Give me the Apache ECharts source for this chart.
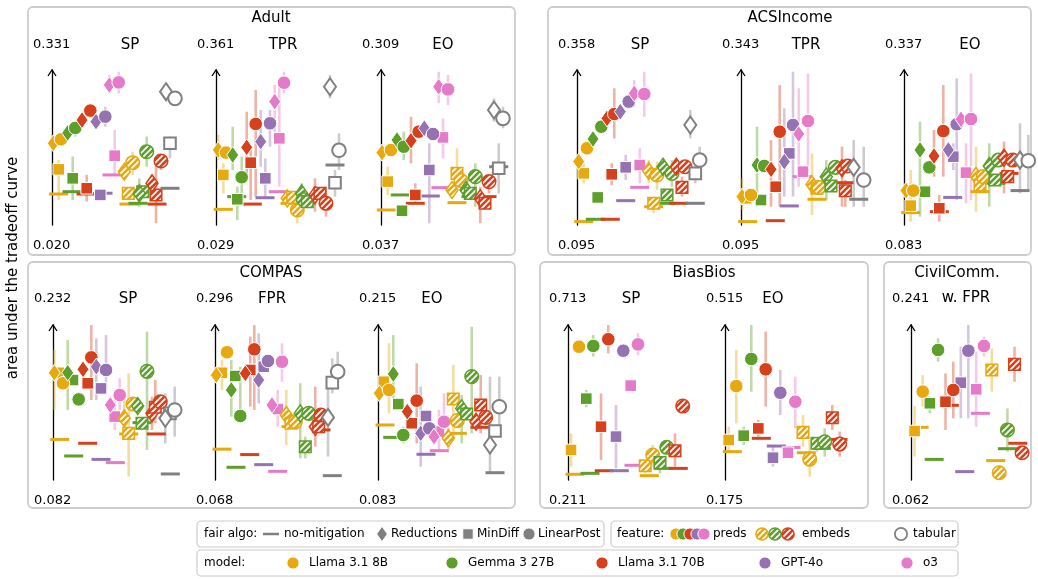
<!DOCTYPE html>
<html>
<head>
<meta charset="utf-8">
<script src="https://cdn.jsdelivr.net/npm/echarts@6/dist/echarts.min.js"></script>
<style>
  html, body { margin: 0; padding: 0; background: #fff; }
  #main { width: 1038px; height: 579px; }
</style>
</head>
<body>
<div id="main"></div>
<script>
// models in plot order, last colour is the tabular baseline
var modelNames = ['Llama 3.1 8B', 'Gemma 3 27B', 'Llama 3.1 70B', 'GPT-4o', 'o3'];
var modelColors = ['#E6A910', '#5E9F2C', '#D5411D', '#9572B2', '#E57AC9', '#808080'];
var algoNames = ['no-mitigation', 'Reductions', 'MinDiff', 'LinearPost'];   // 0 line, 1 diamond, 2 square, 3 circle
var featureNames = ['preds', 'embeds', 'tabular'];                          // 0 filled, 1 hatched, 2 hollow

// rows: [x slot, y (share of panel range), err low, err high, model, algo, feature]
var adultSP = [
  [0.67,0.200,null,null,0,0,0],[2.0,0.215,null,null,1,0,0],[3.4,0.200,null,null,2,0,0],[5.1,0.205,null,null,3,0,0],[6.0,0.323,null,null,4,0,0],
  [0.67,0.359,0.161,0.419,0,2,0],[2.07,0.301,0.161,0.441,1,2,0],[3.47,0.237,0.151,0.323,2,2,0],[4.83,0.194,null,null,3,2,0],[6.27,0.447,0.323,0.613,4,2,0],
  [0.13,0.527,null,null,0,1,0],[0.9,0.553,null,null,0,3,0],[1.57,0.594,null,null,1,1,0],[2.33,0.626,0.570,0.656,1,3,0],[3.0,0.677,null,null,2,1,0],
  [3.83,0.738,null,null,2,3,0],[4.4,0.667,null,null,3,1,0],[5.33,0.699,0.634,0.763,3,3,0],[5.73,0.903,0.849,0.968,4,1,0],[6.67,0.920,0.849,0.989,4,3,0],
  [7.7,0.135,null,null,0,0,1],[8.6,0.140,null,null,1,0,1],[10.5,0.135,null,null,2,0,1],
  [7.63,0.204,null,null,0,2,1],[9.07,0.215,null,null,1,2,1],[10.4,0.194,0.011,0.419,2,2,1],
  [7.23,0.344,null,null,0,1,1],[8.07,0.402,0.323,0.473,0,3,1],[8.73,0.204,0.118,0.301,1,1,1],[9.47,0.473,0.376,0.570,1,3,1],
  [10.0,0.269,0.204,0.323,2,1,1],[10.9,0.413,0.355,0.452,2,3,1],
  [11.8,0.237,null,null,5,0,2],[11.8,0.527,0.430,0.570,5,2,2],[11.4,0.860,null,null,5,1,2],[12.3,0.817,null,null,5,3,2]
];
var adultTPR = [
  [0.73,0.101,null,null,0,0,0],[2.07,0.183,null,null,1,0,0],[3.63,0.135,null,null,2,0,0],[4.9,0.176,null,null,3,0,0],[6.23,0.215,null,null,4,0,0],
  [0.73,0.323,0.204,0.398,0,2,0],[2.13,0.166,0.032,0.247,1,2,0],[3.47,0.402,0.161,0.505,2,2,0],[4.93,0.301,0.183,0.430,3,2,0],[6.33,0.559,0.247,0.935,4,2,0],
  [0.23,0.484,0.419,0.581,0,1,0],[1.0,0.467,null,null,0,3,0],[1.67,0.452,0.355,0.634,1,1,0],[2.57,0.308,0.183,0.441,1,3,0],[3.07,0.501,0.333,0.731,2,1,0],
  [3.97,0.652,0.183,0.871,2,3,0],[4.47,0.538,0.376,0.742,3,1,0],[5.4,0.656,0.505,0.742,3,3,0],[5.87,0.796,0.527,0.903,4,1,0],[6.8,0.918,0.849,0.989,4,3,0],
  [7.4,0.140,null,null,0,0,1],[9.0,0.140,null,null,1,0,1],[10.5,0.170,null,null,2,0,1],
  [7.13,0.172,0.118,0.226,0,1,1],[7.67,0.178,null,null,0,2,1],[8.13,0.097,0.011,0.204,0,3,1],[8.57,0.204,0.097,0.269,1,1,1],[8.73,0.165,null,null,1,3,1],
  [9.13,0.151,null,null,1,2,1],[9.9,0.194,0.086,0.301,2,1,1],[10.4,0.204,null,null,2,2,1],[11.0,0.140,0.054,0.247,2,3,1],
  [11.9,0.387,null,null,5,0,2],[11.9,0.273,0.183,0.355,5,2,2],[11.4,0.892,0.817,0.968,5,1,2],[12.3,0.482,0.355,0.591,5,3,2]
];
var adultEO = [
  [0.53,0.097,null,null,0,0,0],[1.93,0.194,null,null,1,0,0],[3.43,0.140,null,null,2,0,0],[4.93,0.187,null,null,3,0,0],[6.0,0.241,null,null,4,0,0],
  [0.67,0.280,0.194,0.376,0,2,0],[2.1,0.092,null,null,1,2,0],[3.43,0.194,0.140,0.269,2,2,0],[4.83,0.355,0.011,0.527,3,2,0],[6.2,0.565,0.430,0.688,4,2,0],
  [0.1,0.467,null,null,0,1,0],[1.0,0.484,null,null,0,3,0],[1.6,0.548,null,null,1,1,0],[2.27,0.505,0.419,0.602,1,3,0],[3.0,0.544,0.398,0.699,2,1,0],
  [3.77,0.602,null,null,2,3,0],[4.33,0.624,null,null,3,1,0],[5.2,0.587,null,null,3,3,0],[5.77,0.892,0.785,0.989,4,1,0],[6.7,0.875,0.774,0.968,4,3,0],
  [7.6,0.144,null,null,0,0,1],[9.0,0.183,null,null,1,0,1],[10.6,0.183,null,null,2,0,1],
  [7.1,0.226,null,null,0,1,1],[7.6,0.333,0.247,0.495,0,2,1],[8.0,0.286,null,null,0,3,1],[8.5,0.226,null,null,1,1,1],[8.93,0.204,null,null,1,2,1],
  [9.43,0.312,0.118,0.398,1,3,1],[9.93,0.172,0.011,0.247,2,1,1],[10.4,0.140,null,null,2,2,1],[10.8,0.280,0.204,0.323,2,3,1],
  [11.77,0.376,null,null,5,0,2],[11.77,0.366,0.204,0.527,5,2,2],[11.3,0.742,0.667,0.817,5,1,2],[12.2,0.688,0.624,0.763,5,3,2]
];
var acsSP = [
  [0.67,0.022,null,null,0,0,0],[1.83,0.037,null,null,1,0,0],[3.33,0.037,null,null,2,0,0],[4.87,0.157,null,null,3,0,0],[6.27,0.243,null,null,4,0,0],
  [0.67,0.333,0.269,0.398,0,2,0],[2.07,0.178,null,null,1,2,0],[3.47,0.327,0.258,0.398,2,2,0],[4.87,0.372,0.290,0.452,3,2,0],[6.27,0.387,0.269,0.495,4,2,0],
  [0.17,0.409,null,null,0,1,0],[1.0,0.495,null,null,0,3,0],[1.6,0.555,null,null,1,1,0],[2.43,0.634,null,null,1,3,0],[3.0,0.688,null,null,2,1,0],
  [3.73,0.716,0.559,0.882,2,3,0],[4.33,0.731,null,null,3,1,0],[5.17,0.796,null,null,3,3,0],[5.73,0.849,0.763,0.935,4,1,0],[6.73,0.845,0.699,0.989,4,3,0],
  [7.67,0.118,null,null,0,0,1],[8.93,0.140,null,null,1,0,1],[10.17,0.140,null,null,2,0,1],
  [7.17,0.348,0.269,0.419,0,1,1],[7.67,0.140,0.075,0.183,0,2,1],[8.0,0.323,0.226,0.409,0,3,1],[8.6,0.376,null,null,1,1,1],[9.0,0.194,null,null,1,2,1],
  [9.5,0.333,0.247,0.419,1,3,1],[9.93,0.376,0.323,0.419,2,1,1],[10.5,0.243,0.183,0.312,2,2,1],[10.8,0.376,null,null,2,3,1],
  [11.83,0.140,null,null,5,0,2],[11.83,0.333,0.269,0.376,5,2,2],[11.33,0.645,0.559,0.742,5,1,2],[12.27,0.419,0.355,0.505,5,3,2]
];
var acsTPR = [
  [0.67,0.022,null,null,0,0,0],[3.43,0.028,null,null,2,0,0],[4.83,0.123,null,null,3,0,0],[6.1,0.312,null,null,4,0,0],
  [0.53,0.172,null,null,0,2,0],[2.0,0.161,null,null,1,2,0],[3.47,0.247,null,null,2,2,0],[4.83,0.462,null,null,3,2,0],[6.2,0.344,null,null,4,2,0],
  [0.1,0.183,0.097,0.301,0,1,0],[1.0,0.194,null,null,0,3,0],[1.6,0.387,0.118,0.634,1,1,0],[2.33,0.381,null,null,1,3,0],[3.0,0.359,0.118,0.548,2,1,0],
  [3.87,0.602,0.118,0.903,2,3,0],[4.33,0.409,0.183,0.753,3,1,0],[5.2,0.645,0.183,0.989,3,3,0],[5.77,0.587,0.247,0.882,4,1,0],[6.7,0.671,0.333,0.978,4,3,0],
  [7.6,0.166,null,null,0,0,1],[10.3,0.273,null,null,2,0,1],
  [7.1,0.262,0.065,0.462,0,1,1],[7.6,0.237,null,null,0,2,1],[7.77,0.243,null,null,0,3,1],[8.53,0.312,0.161,0.419,1,1,1],[9.0,0.252,null,null,1,2,1],
  [9.43,0.372,null,null,1,3,1],[10.1,0.366,0.118,0.505,2,1,1],[10.43,0.221,0.118,0.290,2,2,1],[10.67,0.381,null,null,2,3,1],
  [11.77,0.166,null,null,5,0,2],[11.27,0.372,0.118,0.548,5,1,2],[12.27,0.290,0.118,0.505,5,3,2]
];
var acsEO = [
  [0.67,0.080,null,null,0,0,0],[3.53,0.086,null,null,2,0,0],[4.87,0.178,null,null,3,0,0],
  [0.67,0.125,0.022,0.355,0,2,0],[2.1,0.215,null,null,1,2,0],[3.53,0.108,0.022,0.194,2,2,0],[4.93,0.441,0.355,0.527,3,2,0],[6.2,0.338,0.140,0.527,4,2,0],
  [0.2,0.222,null,null,0,1,0],[0.93,0.222,null,null,0,3,0],[1.6,0.484,0.054,0.667,1,1,0],[2.53,0.372,null,null,1,3,0],[3.0,0.445,0.312,0.613,2,1,0],
  [3.93,0.606,0.312,0.903,2,3,0],[4.43,0.484,null,null,3,1,0],[5.27,0.650,0.161,0.946,3,3,0],[5.7,0.682,null,null,4,1,0],[6.7,0.684,0.161,0.978,4,3,0],
  [7.6,0.215,null,null,0,0,1],[9.2,0.269,null,null,1,0,1],[10.5,0.333,null,null,2,0,1],
  [7.2,0.316,0.086,0.505,0,1,1],[7.6,0.258,null,null,0,2,1],[7.93,0.312,null,null,0,3,1],[8.53,0.381,0.118,0.527,1,1,1],[9.1,0.290,null,null,1,2,1],
  [9.43,0.419,null,null,1,3,1],[10.0,0.434,0.204,0.538,2,1,1],[10.37,0.312,null,null,2,2,1],[10.87,0.419,null,null,2,3,1],
  [11.6,0.222,null,null,5,0,2],[11.6,0.419,0.204,0.656,5,1,2],[12.43,0.415,0.215,0.581,5,3,2]
];
var compasSP = [
  [0.67,0.262,null,null,0,0,0],[2.07,0.155,null,null,1,0,0],[3.47,0.237,null,null,2,0,0],[4.8,0.133,null,null,3,0,0],[6.23,0.112,null,null,4,0,0],
  [0.57,0.692,null,null,0,2,0],[2.0,0.645,null,null,1,2,0],[3.47,0.624,null,null,2,2,0],[4.8,0.591,null,null,3,2,0],[6.17,0.409,0.323,0.538,4,2,0],
  [0.13,0.692,0.452,0.839,0,1,0],[1.0,0.624,null,null,0,3,0],[1.47,0.692,0.452,0.903,1,1,0],[2.57,0.520,null,null,1,3,0],[3.0,0.714,null,null,2,1,0],
  [3.83,0.791,0.516,1.0,2,3,0],[4.33,0.731,0.516,0.914,3,1,0],[5.3,0.710,0.581,0.935,3,3,0],[5.73,0.484,null,null,4,1,0],[6.67,0.548,0.452,0.656,4,3,0],
  [7.57,0.297,null,null,0,0,1],[8.9,0.370,null,null,1,0,1],[10.33,0.297,null,null,2,0,1],
  [7.13,0.398,0.258,0.538,0,1,1],[7.57,0.301,0.022,0.688,0,2,1],[8.0,0.490,null,null,0,3,1],[8.47,0.477,null,null,1,1,1],[8.9,0.366,null,null,1,2,1],
  [9.4,0.701,0.194,0.957,1,3,1],[9.9,0.430,0.323,0.538,2,1,1],[10.23,0.469,0.366,0.645,2,2,1],[10.73,0.505,null,null,2,3,1],
  [11.73,0.039,null,null,5,0,2],[11.7,0.430,null,null,5,2,2],[11.23,0.398,0.237,0.559,5,1,2],[12.17,0.452,0.280,0.602,5,3,2]
];
var compasFPR = [
  [0.7,0.199,null,null,0,0,0],[2.1,0.082,null,null,1,0,0],[3.47,0.164,null,null,2,0,0],[4.87,0.099,null,null,3,0,0],[6.27,0.056,null,null,4,0,0],
  [0.7,0.692,0.581,0.774,0,2,0],[2.03,0.671,null,null,1,2,0],[3.53,0.710,0.473,0.925,2,2,0],[4.87,0.731,null,null,3,2,0],[6.27,0.458,0.344,0.581,4,2,0],
  [0.13,0.677,null,null,0,1,0],[1.2,0.824,null,null,0,3,0],[1.63,0.581,0.409,0.774,1,1,0],[2.53,0.413,0.409,0.731,1,3,0],[3.03,0.688,null,null,2,1,0],
  [3.93,0.843,0.452,1.0,2,3,0],[4.37,0.645,0.495,0.946,3,1,0],[5.3,0.768,null,null,3,3,0],[5.7,0.484,null,null,4,1,0],[6.7,0.763,0.634,0.882,4,3,0],
  [7.6,0.344,null,null,0,0,1],[10.6,0.323,null,null,2,0,1],
  [7.13,0.419,0.226,0.581,0,1,1],[7.6,0.366,null,null,0,2,1],[8.03,0.376,null,null,0,3,1],[8.53,0.430,0.140,0.624,1,1,1],[9.03,0.215,0.140,0.280,1,2,1],
  [9.37,0.430,null,null,1,3,1],[10.03,0.344,0.215,0.602,2,1,1],[10.37,0.344,null,null,2,2,1],[10.6,0.419,null,null,2,3,1],
  [11.73,0.028,null,null,5,0,2],[11.73,0.628,0.559,0.785,5,2,2],[11.3,0.404,0.151,0.667,5,1,2],[12.27,0.699,0.602,0.828,5,3,2]
];
var compasEO = [
  [0.7,0.355,null,null,0,0,0],[1.47,0.275,null,null,1,0,0],[4.8,0.166,null,null,3,0,0],[6.13,0.189,null,null,4,0,0],
  [0.6,0.634,null,null,0,2,0],[2.03,0.490,null,null,1,2,0],[3.37,0.366,null,null,2,2,0],[4.8,0.413,null,null,3,2,0],[6.1,0.312,0.194,0.452,4,2,0],
  [0.13,0.559,null,null,0,1,0],[1.1,0.581,0.430,0.882,0,3,0],[1.53,0.684,0.452,0.935,1,1,0],[2.53,0.290,0.237,0.344,1,3,0],[2.93,0.441,null,null,2,1,0],
  [3.87,0.512,0.237,0.753,2,3,0],[4.27,0.301,0.086,0.602,3,1,0],[5.13,0.333,null,null,3,3,0],[5.6,0.280,null,null,4,1,0],[6.6,0.376,0.258,0.559,4,3,0],
  [7.93,0.301,null,null,0,0,1],[10.2,0.340,null,null,2,0,1],
  [7.03,0.269,0.194,0.344,0,1,1],[7.53,0.523,0.258,0.742,0,2,1],[7.93,0.383,null,null,0,3,1],[8.37,0.462,0.237,0.548,1,1,1],[8.87,0.426,null,null,1,2,1],
  [9.37,0.667,0.301,0.989,1,3,1],[9.8,0.376,null,null,2,1,1],[10.27,0.484,0.301,0.677,2,2,1],[10.77,0.404,null,null,2,3,1],
  [11.7,0.047,null,null,5,0,2],[11.7,0.316,null,null,5,2,2],[11.2,0.226,0.043,0.667,5,1,2],[12.13,0.473,0.301,0.667,5,3,2]
];
var biosSP = [
  [0.7,0.037,null,null,0,0,0],[2.2,0.043,null,null,1,0,0],[3.63,0.060,null,null,2,0,0],[5.13,0.060,null,null,3,0,0],[6.6,0.095,null,null,4,0,0],
  [0.3,0.194,0.086,0.301,0,2,0],[1.83,0.525,0.469,0.581,1,2,0],[3.3,0.344,0.129,0.559,2,2,0],[4.8,0.280,0.075,0.484,3,2,0],[6.27,0.609,null,null,4,2,0],
  [1.1,0.860,null,null,0,3,0],[2.53,0.865,0.796,0.935,1,3,0],[4.03,0.908,0.817,1.0,2,3,0],[5.53,0.834,null,null,3,3,0],[7.0,0.875,0.806,0.946,4,3,0],
  [8.13,0.028,null,null,0,0,1],[9.53,0.075,null,null,1,0,1],[11.03,0.075,null,null,2,0,1],
  [7.73,0.092,0.043,0.129,0,2,1],[8.47,0.161,0.086,0.226,0,3,1],[9.2,0.112,0.043,0.151,1,2,1],[9.87,0.211,null,null,1,3,1],
  [10.7,0.189,0.086,0.301,2,2,1],[11.47,0.477,null,null,2,3,1]
];
var biosEO = [
  [0.73,0.183,null,null,0,0,0],[3.63,0.269,null,null,2,0,0],[5.13,0.219,null,null,3,0,0],[6.6,0.210,null,null,4,0,0],
  [0.37,0.258,0.183,0.344,0,2,0],[1.87,0.286,0.226,0.344,1,2,0],[3.33,0.333,0.280,0.387,2,2,0],[4.8,0.144,0.086,0.215,3,2,0],[6.3,0.176,null,null,4,2,0],
  [1.13,0.606,0.366,0.839,0,3,0],[2.63,0.781,0.570,1.0,1,3,0],[4.07,0.714,0.473,0.957,2,3,0],[5.53,0.563,0.419,0.710,3,3,0],[7.03,0.505,0.333,0.667,4,3,0],
  [8.13,0.176,null,null,0,0,1],[9.63,0.204,null,null,1,0,1],[11.3,0.262,null,null,2,0,1],
  [7.8,0.307,0.215,0.419,0,2,1],[8.47,0.135,0.022,0.258,0,3,1],[9.2,0.237,0.183,0.269,1,2,1],[9.97,0.247,0.151,0.333,1,3,1],
  [10.73,0.402,0.323,0.484,2,2,1],[11.47,0.232,0.151,0.312,2,3,1]
];
var civilFPR = [
  [0.83,0.340,null,null,0,0,0],[2.37,0.133,null,null,1,0,0],[3.93,0.482,null,null,2,0,0],[5.5,0.054,null,null,3,0,0],[7.1,0.430,null,null,4,0,0],
  [0.37,0.316,0.151,0.477,0,2,0],[1.93,0.495,0.430,0.538,1,2,0],[3.53,0.505,0.323,0.688,2,2,0],[5.1,0.628,0.398,0.860,3,2,0],[6.67,0.585,0.344,0.828,4,2,0],
  [1.2,0.570,0.473,0.677,0,3,0],[2.77,0.839,0.763,0.914,1,3,0],[4.33,0.581,0.398,0.763,2,3,0],[5.87,0.834,0.398,1.0,3,3,0],[7.47,0.865,0.796,0.925,4,3,0],
  [8.67,0.125,null,null,0,0,1],[9.87,0.202,null,null,1,0,1],[10.93,0.237,null,null,2,0,1],
  [8.27,0.710,0.570,0.849,0,2,1],[9.03,0.047,null,null,0,3,1],[9.87,0.323,0.183,0.462,1,3,1],[10.6,0.746,0.634,0.860,2,2,1],[11.37,0.176,null,null,2,3,1]
];

var panelData = [adultSP, adultTPR, adultEO, acsSP, acsTPR, acsEO, compasSP, compasFPR, compasEO, biosSP, biosEO, civilFPR];
var panelTitles = ['SP', 'TPR', 'EO', 'SP', 'TPR', 'EO', 'SP', 'FPR', 'EO', 'SP', 'EO', 'w. FPR'];
var panelMax = ['0.331', '0.361', '0.309', '0.358', '0.343', '0.337', '0.232', '0.296', '0.215', '0.713', '0.515', '0.241'];
var panelMin = ['0.020', '0.029', '0.037', '0.095', '0.095', '0.083', '0.082', '0.068', '0.083', '0.211', '0.175', '0.062'];
var datasetNames = ['Adult', 'ACSIncome', 'COMPAS', 'BiasBios', 'CivilComm.'];

// layout
var panelLeft = [52, 216, 381, 577, 741, 904, 53, 215, 378, 568, 725, 911];
var panelTitleX = [130, 283, 443, 640, 806, 970, 128, 272, 432, 631, 773, 966];
var panelRow = [0, 0, 0, 0, 0, 0, 1, 1, 1, 1, 1, 1];
var rowTop = [70, 325];
var PH = 155, PW = 130;
var boxes = [[28, 7, 487, 248], [548, 7, 483, 248], [28, 262, 487, 246], [540, 262, 328, 246], [884, 262, 147, 246]];
var boxTitleX = [271, 790, 271, 704, 957];

var FONT = 'DejaVu Sans';

function hatchCanvas(color) {
  var c = document.createElement('canvas');
  c.width = 6; c.height = 6;
  var g = c.getContext('2d');
  g.fillStyle = color;
  g.fillRect(0, 0, 6, 6);
  g.strokeStyle = '#fff';
  g.lineWidth = 1.6;
  g.beginPath();
  g.moveTo(-1, 7); g.lineTo(7, -1);
  g.moveTo(-1, 1); g.lineTo(1, -1);
  g.moveTo(5, 7); g.lineTo(7, 5);
  g.stroke();
  return c;
}
var hatches = modelColors.map(hatchCanvas);

function shapeFor(a, cx, cy, s) {
  s = s || 1;
  if (a === 1) {
    return { type: 'polygon', shape: { points: [[cx, cy - 8.5 * s], [cx + 6 * s, cy], [cx, cy + 8.5 * s], [cx - 6 * s, cy]] } };
  }
  if (a === 2) {
    return { type: 'rect', shape: { x: cx - 5.8 * s, y: cy - 5.8 * s, width: 11.6 * s, height: 11.6 * s } };
  }
  return { type: 'circle', shape: { cx: cx, cy: cy, r: 6.8 * s } };
}
function styleFor(m, f) {
  var col = modelColors[m];
  if (f === 0) return { fill: col, stroke: '#fff', lineWidth: 1 };
  if (f === 1) return { fill: { image: hatches[m], repeat: 'repeat' }, stroke: col, lineWidth: 1.5 };
  return { fill: '#fff', stroke: col, lineWidth: 2 };
}

function renderErr(params, api) {
  var lo = api.value(2), hi = api.value(3);
  if (lo == null || hi == null || isNaN(lo) || isNaN(hi)) return null;
  var p1 = api.coord([api.value(0), lo]);
  var p2 = api.coord([api.value(0), hi]);
  return {
    type: 'line',
    shape: { x1: p1[0], y1: p1[1], x2: p2[0], y2: p2[1] },
    style: { stroke: modelColors[api.value(4)], lineWidth: 2.6, opacity: 0.4 }
  };
}
function renderMark(params, api) {
  var m = api.value(4), a = api.value(5), f = api.value(6);
  var p = api.coord([api.value(0), api.value(1)]);
  if (a === 0) {
    return {
      type: 'line',
      shape: { x1: p[0] - 9.5, y1: p[1], x2: p[0] + 9.5, y2: p[1] },
      style: { stroke: modelColors[m], lineWidth: 3 }
    };
  }
  var el = shapeFor(a, p[0], p[1]);
  el.style = styleFor(m, f);
  return el;
}

var grids = [], xAxes = [], yAxes = [], series = [], graphics = [];
var dims = ['x', 'y', 'lo', 'hi', 'm', 'a', 'f'];

panelData.forEach(function (rows, i) {
  var top = rowTop[panelRow[i]];
  grids.push({ left: panelLeft[i], top: top, width: PW, height: PH });
  xAxes.push({ gridIndex: i, type: 'value', min: 0, max: 13, show: false });
  yAxes.push({
    gridIndex: i, type: 'value', min: 0, max: 1,
    axisLine: { show: true, onZero: false, lineStyle: { color: '#000', width: 1.3 } },
    axisTick: { show: false }, axisLabel: { show: false }, splitLine: { show: false }
  });
  series.push({
    type: 'custom', xAxisIndex: i, yAxisIndex: i, z: 2, clip: false, silent: true,
    dimensions: dims, encode: { x: 0, y: 1 }, renderItem: renderErr, data: rows
  });
  series.push({
    type: 'custom', xAxisIndex: i, yAxisIndex: i, z: 3, clip: false, silent: true,
    dimensions: dims, encode: { x: 0, y: 1 }, renderItem: renderMark, data: rows
  });
  // arrow head, range labels, panel title
  var ax = panelLeft[i];
  graphics.push({ type: 'polyline', shape: { points: [[ax - 4, top + 6], [ax, top], [ax + 4, top + 6]] },
    style: { stroke: '#000', lineWidth: 1.3, fill: null }, z: 10 });
  var labY = panelRow[i] === 0 ? 45 : 299;
  graphics.push({ type: 'text', x: ax - 19, y: labY,
    style: { text: panelMax[i], font: '13px "' + FONT + '"', fill: '#000', align: 'left', verticalAlign: 'middle' } });
  graphics.push({ type: 'text', x: ax - 19, y: top + PH + 21,
    style: { text: panelMin[i], font: '13px "' + FONT + '"', fill: '#000', align: 'left', verticalAlign: 'middle' } });
  graphics.push({ type: 'text', x: panelTitleX[i], y: i === 11 ? 298 : labY,
    style: { text: panelTitles[i], font: '15px "' + FONT + '"', fill: '#000', align: 'center', verticalAlign: 'middle' } });
});

boxes.forEach(function (b, k) {
  graphics.push({ type: 'rect', shape: { x: b[0], y: b[1], width: b[2], height: b[3], r: 5 },
    style: { fill: null, stroke: '#cccccc', lineWidth: 1.8 }, z: -1 });
  graphics.push({ type: 'text', x: boxTitleX[k], y: b[1] + 11,
    style: { text: datasetNames[k], font: '15px "' + FONT + '"', fill: '#000', align: 'center', verticalAlign: 'middle' } });
});

graphics.push({ type: 'text', x: 13, y: 268, rotation: Math.PI / 2,
  style: { text: 'area under the tradeoff curve', font: '15px "' + FONT + '"', fill: '#000', align: 'center', verticalAlign: 'middle' } });

// legend boxes
function legText(x, y, t) {
  return { type: 'text', x: x, y: y, style: { text: t, font: '12px "' + FONT + '"', fill: '#000', align: 'left', verticalAlign: 'middle' } };
}
function legMark(a, m, f, cx, cy) {
  var el = shapeFor(a, cx, cy, 0.9);
  el.style = f === 2 ? { fill: '#fff', stroke: modelColors[m], lineWidth: 1.8 } : styleFor(m, f);
  if (f === 0 && m === 5) el.style = { fill: modelColors[5], stroke: '#fff', lineWidth: 1 };
  el.z = 20;
  return el;
}
var LY1 = 534, LY2 = 563;
graphics.push({ type: 'rect', shape: { x: 197, y: 521, width: 407, height: 26, r: 4 }, style: { fill: '#fff', stroke: '#cccccc', lineWidth: 1.2 }, z: 15 });
graphics.push({ type: 'rect', shape: { x: 611, y: 521, width: 347, height: 26, r: 4 }, style: { fill: '#fff', stroke: '#cccccc', lineWidth: 1.2 }, z: 15 });
graphics.push({ type: 'rect', shape: { x: 197, y: 550, width: 761, height: 26, r: 4 }, style: { fill: '#fff', stroke: '#cccccc', lineWidth: 1.2 }, z: 15 });

var legendRow1 = [
  legText(204, LY1, 'fair algo:'),
  { type: 'line', shape: { x1: 263, y1: LY1, x2: 279, y2: LY1 }, style: { stroke: modelColors[5], lineWidth: 2.5 }, z: 20 },
  legText(284, LY1, algoNames[0]),
  legMark(1, 5, 0, 382, LY1), legText(391, LY1, algoNames[1]),
  legMark(2, 5, 0, 468, LY1), legText(477, LY1, algoNames[2]),
  legMark(3, 5, 0, 529, LY1), legText(538, LY1, algoNames[3]),
  legText(617, LY1, 'feature:')
];
[0, 1, 2, 3, 4].forEach(function (m) { legendRow1.push(legMark(3, m, 0, 676 + m * 7, LY1)); });
legendRow1.push(legText(713, LY1, featureNames[0]));
[0, 1, 2].forEach(function (m) { legendRow1.push(legMark(3, m, 1, 762 + m * 13, LY1)); });
legendRow1.push(legText(802, LY1, featureNames[1]));
legendRow1.push(legMark(3, 5, 2, 901, LY1));
legendRow1.push(legText(913, LY1, featureNames[2]));

var modelLegendX = [293, 452, 602, 765, 907];
var legendRow2 = [legText(204, LY2, 'model:')];
modelNames.forEach(function (n, m) {
  legendRow2.push(legMark(3, m, 0, modelLegendX[m], LY2));
  legendRow2.push(legText(modelLegendX[m] + 16, LY2, n));
});
legendRow1.concat(legendRow2).forEach(function (el) { if (el.z == null) el.z = 20; graphics.push(el); });

var chart = echarts.init(document.getElementById('main'));
chart.setOption({
  backgroundColor: '#fff',
  animation: false,
  textStyle: { fontFamily: FONT },
  grid: grids,
  xAxis: xAxes,
  yAxis: yAxes,
  series: series,
  graphic: graphics
});
</script>
</body>
</html>
